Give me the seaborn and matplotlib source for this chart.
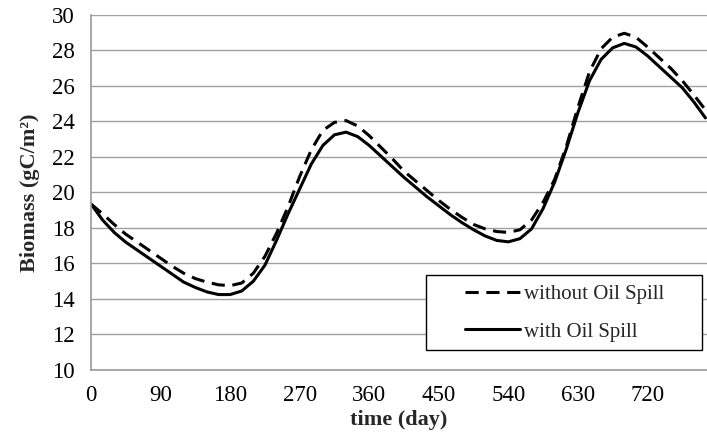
import numpy as np
import pandas as pd
import matplotlib
matplotlib.use("Agg")
import matplotlib.pyplot as plt
from matplotlib.patches import Rectangle
import seaborn as sns

days = [0, 15, 30, 45, 60, 75, 90, 105, 120, 135, 150, 165, 180, 195, 210, 225,
        240, 255, 270, 285, 300, 315, 330, 345, 360, 375, 390, 405, 420, 435,
        450, 465, 480, 495, 510, 525, 540, 555, 570, 585, 600, 615, 630, 645,
        660, 675, 690, 705, 720, 735, 750, 765, 780, 795]

without_spill = [19.35, 18.8, 18.2, 17.65, 17.2, 16.75, 16.3, 15.85, 15.45, 15.15,
                 14.95, 14.8, 14.75, 14.9, 15.45, 16.4, 17.7, 19.2, 20.9, 22.4,
                 23.5, 23.95, 24.05, 23.75, 23.2, 22.55, 21.9, 21.2, 20.65, 20.1,
                 19.55, 19.05, 18.6, 18.2, 17.95, 17.8, 17.75, 17.9, 18.45, 19.45,
                 20.75, 22.6, 24.8, 26.8, 28.1, 28.75, 28.97, 28.75, 28.2, 27.6,
                 27.0, 26.3, 25.5, 24.65]

with_spill = [19.35, 18.45, 17.75, 17.2, 16.75, 16.3, 15.85, 15.4, 14.95, 14.65,
              14.4, 14.25, 14.25, 14.45, 15.0, 15.9, 17.3, 18.8, 20.2, 21.6,
              22.65, 23.25, 23.4, 23.15, 22.65, 22.05, 21.45, 20.85, 20.3, 19.75,
              19.25, 18.75, 18.3, 17.9, 17.55, 17.3, 17.22, 17.4, 17.95, 19.1,
              20.6, 22.45, 24.5, 26.3, 27.5, 28.15, 28.4, 28.2, 27.7, 27.1,
              26.5, 25.9, 25.1, 24.2]

series_names = ["without Oil Spill", "with Oil Spill"]
x_ticks = [0, 90, 180, 270, 360, 450, 540, 630, 720]
y_ticks = [10, 12, 14, 16, 18, 20, 22, 24, 26, 28, 30]

df = pd.DataFrame({
    "day": days * 2,
    "biomass": without_spill + with_spill,
    "series": [series_names[0]] * len(days) + [series_names[1]] * len(days),
})

sns.set_style("white")
plt.rcParams["font.family"] = ["Liberation Serif", "DejaVu Serif"]
plt.rcParams["lines.scale_dashes"] = False

fig = plt.figure(figsize=(7.07, 4.41), dpi=100)
ax = fig.add_axes([0.1287, 0.161, 0.8713, 0.805])

sns.lineplot(data=df, x="day", y="biomass", style="series",
             style_order=series_names,
             dashes={series_names[0]: (9.5, 5.5), series_names[1]: ""},
             color="black", linewidth=2.2, ax=ax, legend=False)
for ln in ax.get_lines():
    ln.set_solid_joinstyle("round")
    ln.set_dash_joinstyle("round")

ax.set_xlim(0, 797)
ax.set_ylim(10, 30)
ax.set_xticks(x_ticks)
ax.set_yticks(y_ticks)
ax.yaxis.grid(True, color="#a0a0a0", linewidth=1.0)
ax.set_axisbelow(True)
for s in ["top", "right"]:
    ax.spines[s].set_visible(False)
for s in ["left", "bottom"]:
    ax.spines[s].set_color("#999999")
    ax.spines[s].set_linewidth(1.2)
ax.tick_params(axis="both", direction="out", length=5.5, width=1.0,
               color="#999999", labelsize=16.5, pad=6, labelcolor="black")
ax.tick_params(axis="x", pad=5)
ax.set_xlabel("time (day)", fontsize=16, fontweight="bold", labelpad=3)
ax.set_ylabel("Biomass (gC/m²)", fontsize=16, fontweight="bold", labelpad=9)

# legend frame box
box = Rectangle((0.544, 0.056), 0.448, 0.212, transform=ax.transAxes,
                facecolor="white", edgecolor="black", linewidth=1.0, zorder=5)
ax.add_patch(box)

handles = [
    plt.Line2D([], [], color="black", linewidth=2.2, dashes=(9.5, 5.5)),
    plt.Line2D([], [], color="black", linewidth=2.2),
]
leg = ax.legend(handles, series_names, loc="center left",
                bbox_to_anchor=(0.607, 0.160), fontsize=15, frameon=False,
                handlelength=2.65, handletextpad=0.2, borderpad=0,
                labelspacing=0.85, borderaxespad=0)
leg.set_zorder(6)

fig.savefig("out.png", dpi=100)
